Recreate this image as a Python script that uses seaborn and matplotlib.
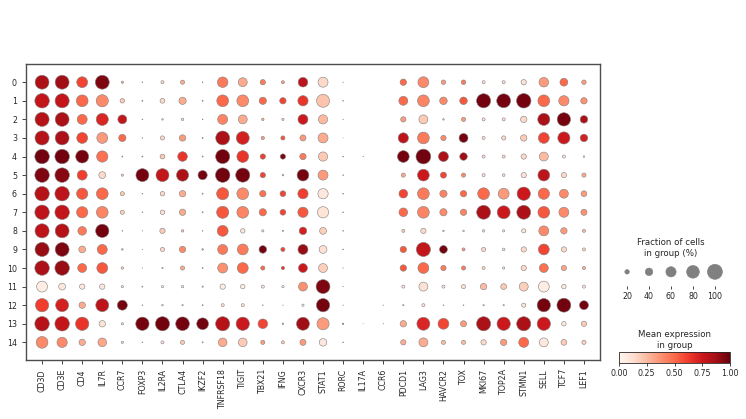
import numpy as np
import pandas as pd
import matplotlib
matplotlib.use('Agg')
import matplotlib.pyplot as plt
import seaborn as sns

genes = ['CD3D', 'CD3E', 'CD4', 'IL7R', 'CCR7', 'FOXP3', 'IL2RA', 'CTLA4', 'IKZF2',
         'TNFRSF18', 'TIGIT', 'TBX21', 'IFNG', 'CXCR3', 'STAT1', 'RORC', 'IL17A', 'CCR6',
         'PDCD1', 'LAG3', 'HAVCR2', 'TOX', 'MKI67', 'TOP2A', 'STMN1', 'SELL', 'TCF7', 'LEF1']
groups = [str(i) for i in range(15)]

# fraction of cells expressing (%) per group (rows) x gene (cols)
frac_pct = [
    [90, 90, 65, 90, 8, 2, 12, 18, 2, 62, 50, 25, 12, 55, 58, 1, 0, 0, 32, 65, 20, 20, 12, 12, 25, 55, 42, 20],
    [95, 92, 72, 75, 20, 3, 22, 38, 3, 72, 72, 38, 32, 60, 82, 2, 0, 0, 50, 72, 40, 40, 92, 90, 95, 72, 60, 32],
    [92, 90, 58, 75, 50, 2, 5, 9, 2, 58, 50, 9, 8, 58, 52, 1, 0, 0, 25, 50, 5, 18, 12, 12, 32, 75, 85, 40],
    [92, 90, 65, 65, 38, 1.5, 18, 32, 3, 90, 82, 13, 18, 30, 58, 0.5, 0, 0, 60, 72, 25, 50, 12, 18, 32, 65, 75, 40],
    [95, 95, 82, 68, 3, 3, 22, 55, 3, 92, 72, 25, 25, 32, 52, 2, 1, 0, 72, 98, 58, 40, 12, 12, 25, 50, 12, 5],
    [95, 95, 58, 35, 8, 82, 82, 75, 52, 95, 92, 25, 5, 72, 58, 2, 0, 0, 18, 72, 30, 18, 12, 10, 25, 72, 25, 18],
    [95, 95, 68, 72, 18, 2, 20, 32, 3, 75, 72, 32, 28, 60, 60, 2, 0, 0, 48, 72, 38, 32, 72, 65, 85, 68, 50, 28],
    [95, 95, 68, 72, 18, 2, 20, 32, 3, 75, 72, 38, 28, 60, 68, 2, 0, 0, 48, 72, 38, 32, 90, 82, 90, 72, 58, 30],
    [92, 90, 48, 85, 2, 1, 25, 9, 2, 65, 20, 8, 4, 40, 35, 2, 0, 0, 12, 25, 5, 5, 9, 8, 18, 58, 32, 12],
    [92, 90, 35, 58, 5, 1, 18, 32, 5, 58, 65, 40, 18, 58, 42, 2, 0, 0, 32, 92, 42, 12, 18, 10, 25, 65, 25, 12],
    [95, 95, 50, 65, 9, 1, 4, 18, 3, 58, 65, 18, 13, 50, 50, 1, 0, 0, 32, 65, 25, 18, 12, 8, 25, 50, 25, 12],
    [65, 35, 25, 25, 8, 3, 8, 9, 4, 25, 20, 12, 8, 50, 90, 1, 0, 0, 12, 50, 12, 18, 32, 28, 50, 65, 20, 12],
    [85, 82, 32, 82, 58, 2, 5, 4, 3, 12, 12, 2, 1, 8, 85, 1, 0, 1, 4, 12, 2, 2, 4, 4, 18, 85, 90, 50],
    [95, 95, 85, 32, 8, 85, 92, 88, 72, 92, 85, 55, 5, 82, 75, 4, 0.5, 1, 32, 82, 65, 30, 92, 85, 92, 85, 20, 25],
    [72, 60, 32, 48, 8, 2, 12, 18, 3, 48, 48, 18, 12, 30, 40, 2, 0, 0, 25, 50, 18, 18, 25, 32, 58, 50, 28, 18],
]

# mean expression in group (scaled 0-1)
mean_expr = [
    [.85, .88, .60, .95, .30, .20, .15, .30, .30, .45, .30, .45, .35, .80, .15, .70, .50, .50, .50, .40, .35, .45, .12, .12, .12, .35, .50, .35],
    [.78, .78, .50, .40, .20, .30, .15, .30, .30, .50, .40, .50, .60, .65, .22, .50, .50, .50, .50, .42, .40, .55, .97, .97, .97, .50, .40, .38],
    [.82, .85, .50, .70, .78, .30, .20, .15, .30, .42, .30, .30, .20, .75, .25, .50, .50, .50, .35, .20, .25, .35, .12, .12, .15, .85, .97, .85],
    [.82, .85, .60, .35, .50, .30, .15, .35, .30, .85, .72, .35, .55, .35, .30, .50, .50, .50, .80, .45, .40, .97, .12, .15, .20, .60, .75, .72],
    [.98, .98, .97, .48, .30, .30, .20, .65, .30, .98, .65, .62, .95, .45, .20, .60, .40, .50, .97, .98, .85, .88, .12, .12, .15, .25, .10, .10],
    [.95, .93, .62, .15, .20, .97, .78, .85, .97, .98, .97, .60, .30, .97, .35, .60, .50, .50, .30, .75, .60, .40, .12, .12, .12, .80, .15, .30],
    [.82, .80, .55, .50, .20, .30, .15, .30, .30, .55, .40, .48, .60, .62, .08, .60, .50, .50, .60, .45, .42, .50, .50, .35, .75, .50, .40, .35],
    [.80, .78, .50, .42, .18, .30, .12, .30, .30, .55, .42, .50, .60, .55, .10, .60, .50, .50, .50, .42, .40, .42, .85, .75, .85, .55, .40, .38],
    [.80, .82, .45, .98, .30, .30, .20, .20, .30, .55, .10, .15, .30, .72, .18, .60, .50, .50, .20, .15, .20, .15, .10, .10, .10, .40, .35, .25],
    [.90, .95, .30, .50, .30, .30, .15, .40, .30, .45, .45, .97, .60, .90, .12, .60, .50, .50, .55, .78, .97, .35, .15, .10, .15, .60, .15, .15],
    [.85, .90, .50, .55, .20, .30, .20, .30, .30, .38, .50, .50, .65, .75, .18, .50, .50, .50, .55, .50, .45, .45, .15, .10, .15, .48, .32, .30],
    [.05, .08, .08, .08, .10, .30, .05, .08, .20, .05, .05, .08, .05, .38, .95, .50, .50, .50, .08, .12, .10, .12, .25, .20, .18, .05, .08, .08],
    [.62, .72, .30, .80, .97, .30, .10, .20, .30, .10, .10, .30, .30, .10, .97, .50, .50, .50, .20, .10, .20, .20, .15, .15, .10, .97, .98, .97],
    [.82, .78, .65, .10, .15, .97, .98, .97, .98, .82, .75, .60, .30, .88, .35, .80, .50, .50, .30, .70, .60, .35, .85, .75, .85, .75, .08, .20],
    [.40, .40, .30, .32, .15, .30, .10, .20, .30, .30, .20, .35, .20, .35, .08, .50, .50, .50, .30, .30, .25, .25, .15, .35, .50, .08, .20, .18],
]

fs = 5.7
max_dot = 117  # marker area (pt^2) for 100 %

rows = []
for gi, g in enumerate(groups):
    for ji, gene in enumerate(genes):
        f = frac_pct[gi][ji] / 100
        rows.append({'group': g, 'gene': gene, 'frac': f,
                     'dot': f ** 1.5, 'expr': mean_expr[gi][ji]})
df = pd.DataFrame(rows)

sns.set_style('ticks')
plt.rcParams['font.family'] = ['DejaVu Sans']

fig = plt.figure(figsize=(7.46, 4.19), dpi=100)
ax = fig.add_axes([26 / 746, 1 - 360 / 419, 574 / 746, 296 / 419])

sns.scatterplot(data=df, x='gene', y='group', hue='expr', size='dot',
                hue_norm=(0, 1), palette='Reds', sizes=(0, max_dot), size_norm=(0, 1),
                edgecolor='0.5', linewidth=0.4, legend=False, ax=ax)
ax.set_xlim(-0.8, len(genes) - 0.2)
ax.set_ylim(len(groups) - 0.05, -0.98)
ax.set_xlabel('')
ax.set_ylabel('')
ax.tick_params(axis='x', labelrotation=90, labelsize=fs, length=3, width=0.6)
ax.tick_params(axis='y', labelsize=fs, length=3, width=0.6)
for s in ax.spines.values():
    s.set_visible(True)
    s.set_linewidth(1.0)
    s.set_color('0.3')

# size legend
lax = fig.add_axes([615 / 746, 1 - 286 / 419, 112 / 746, 26 / 419])
leg_vals = [20, 40, 60, 80, 100]
leg_df = pd.DataFrame({'pos': range(len(leg_vals)),
                       'dot': [(v / 100) ** 1.5 for v in leg_vals], 'y': 0})
sns.scatterplot(data=leg_df, x='pos', y='y', size='dot', sizes=(0, max_dot), size_norm=(0, 1),
                color='gray', edgecolor='gray', linewidth=0.4, legend=False, ax=lax)
lax.set_xlim(-0.55, len(leg_vals) - 0.45)
lax.set_ylim(-0.6, 0.5)
lax.set_xticks(range(len(leg_vals)))
lax.set_xticklabels([str(v) for v in leg_vals], fontsize=fs)
lax.set_yticks([])
lax.set_xlabel('')
lax.set_ylabel('')
lax.tick_params(axis='x', length=2, width=0.6, pad=2)
for s in lax.spines.values():
    s.set_visible(False)
lax.set_title('Fraction of cells\nin group (%)', fontsize=6.2, pad=3)

# colorbar
cax = fig.add_axes([619 / 746, 1 - 363 / 419, 111 / 746, 11 / 419])
sm = plt.cm.ScalarMappable(cmap='Reds', norm=plt.Normalize(0, 1))
cb = fig.colorbar(sm, cax=cax, orientation='horizontal')
cb.set_ticks([0, 0.25, 0.5, 0.75, 1.0])
cb.ax.tick_params(labelsize=fs, length=2, width=0.6, pad=2)
cb.outline.set_linewidth(0.6)
cax.set_title('Mean expression\nin group', fontsize=6.2, pad=3)

fig.savefig('out.png', dpi=100)
